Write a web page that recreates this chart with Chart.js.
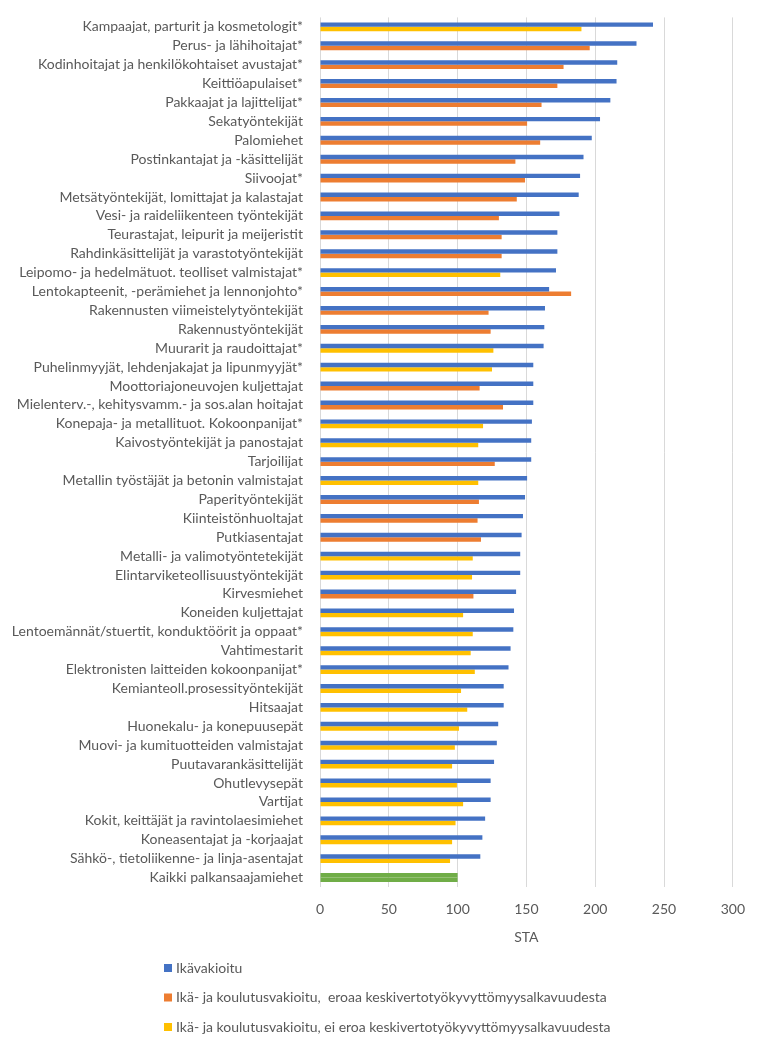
<!DOCTYPE html>
<html>
<head>
<meta charset="utf-8">
<script src="https://cdn.jsdelivr.net/npm/chart.js@4.4.1/dist/chart.umd.min.js"></script>
<style>
  html, body { margin: 0; padding: 0; background: #fff; }
  #wrap { width: 759px; height: 1053px; position: relative; }
</style>
</head>
<body>
<div id="wrap"><canvas id="staChart"></canvas></div>
<script>
const categories = [
  'Kampaajat, parturit ja kosmetologit*',
  'Perus- ja lähihoitajat*',
  'Kodinhoitajat ja henkilökohtaiset avustajat*',
  'Keittiöapulaiset*',
  'Pakkaajat ja lajittelijat*',
  'Sekatyöntekijät',
  'Palomiehet',
  'Postinkantajat ja -käsittelijät',
  'Siivoojat*',
  'Metsätyöntekijät, lomittajat ja kalastajat',
  'Vesi- ja raideliikenteen työntekijät',
  'Teurastajat, leipurit ja meijeristit',
  'Rahdinkäsittelijät ja varastotyöntekijät',
  'Leipomo- ja hedelmätuot. teolliset valmistajat*',
  'Lentokapteenit, -perämiehet ja lennonjohto*',
  'Rakennusten viimeistelytyöntekijät',
  'Rakennustyöntekijät',
  'Muurarit ja raudoittajat*',
  'Puhelinmyyjät, lehdenjakajat ja lipunmyyjät*',
  'Moottoriajoneuvojen kuljettajat',
  'Mielenterv.-, kehitysvamm.- ja sos.alan hoitajat',
  'Konepaja- ja metallituot. Kokoonpanijat*',
  'Kaivostyöntekijät ja panostajat',
  'Tarjoilijat',
  'Metallin työstäjät ja betonin valmistajat',
  'Paperityöntekijät',
  'Kiinteistönhuoltajat',
  'Putkiasentajat',
  'Metalli- ja valimotyöntetekijät',
  'Elintarviketeollisuustyöntekijät',
  'Kirvesmiehet',
  'Koneiden kuljettajat',
  'Lentoemännät/stuertit, konduktöörit ja oppaat*',
  'Vahtimestarit',
  'Elektronisten laitteiden kokoonpanijat*',
  'Kemianteoll.prosessityöntekijät',
  'Hitsaajat',
  'Huonekalu- ja konepuusepät',
  'Muovi- ja kumituotteiden valmistajat',
  'Puutavarankäsittelijät',
  'Ohutlevysepät',
  'Vartijat',
  'Kokit, keittäjät ja ravintolaesimiehet',
  'Koneasentajat ja -korjaajat',
  'Sähkö-, tietoliikenne- ja linja-asentajat',
  'Kaikki palkansaajamiehet'
];

// Ikävakioitu
const ikavakioitu = [242, 230, 216, 215.5, 211, 203.5, 197.5, 191.5, 189, 188,
  174, 172.5, 172.5, 171.5, 166.5, 163.5, 163, 162.5, 155, 155,
  155, 154, 153.5, 153.5, 150.5, 149, 147.5, 146.5, 145.5, 145.5,
  142.5, 141, 140.5, 138.5, 137, 133.5, 133.5, 129.5, 128.5, 126.5,
  124, 124, 120, 118, 116.5, null];

// Ikä- ja koulutusvakioitu, eroaa keskivertotyökyvyttömyysalkavuudesta
const eroaa = [null, 196, 177, 172.5, 161, 150.5, 160, 142, 149, 143,
  130, 132, 132, null, 182.5, 122.5, 124, null, null, 116,
  133, null, null, 127, null, 115.5, 114.5, 117, null, null,
  111.5, null, null, null, null, null, null, null, null, null,
  null, null, null, null, null, null];

// Ikä- ja koulutusvakioitu, ei eroa keskivertotyökyvyttömyysalkavuudesta
const eiEroa = [190, null, null, null, null, null, null, null, null, null,
  null, null, null, 131, null, null, null, 126, 125, null,
  null, 118.5, 115, null, 115, null, null, null, 111, 110.5,
  null, 104, 111, 109.5, 112.5, 102.5, 107, 101, 98, 96,
  99.5, 104, 98.5, 96, 94.5, null];

// Kaikki palkansaajamiehet
const kaikki = [null, null, null, null, null, null, null, null, null, null,
  null, null, null, null, null, null, null, null, null, null,
  null, null, null, null, null, null, null, null, null, null,
  null, null, null, null, null, null, null, null, null, null,
  null, null, null, null, null, 100];

const xTicks = [0, 50, 100, 150, 200, 250, 300];

const FONT = "Lato, 'Open Sans', sans-serif";
const GREY = '#595959';

// legend drawn as three rows below the axis title, like the original
const rowLegend = {
  id: 'rowLegend',
  afterDraw(chart) {
    const ctx = chart.ctx;
    const items = chart.data.datasets.filter(d => !d.hideInLegend);
    ctx.save();
    ctx.font = '14px ' + FONT;
    ctx.textBaseline = 'middle';
    items.forEach((d, i) => {
      const y = 968 + i * 29.5;
      ctx.fillStyle = d.backgroundColor;
      ctx.fillRect(164, y - 4, 8, 8);
      ctx.fillStyle = GREY;
      ctx.fillText(d.label, 176, y);
    });
    ctx.restore();
  }
};

new Chart(document.getElementById('staChart'), {
  type: 'bar',
  data: {
    labels: categories,
    datasets: [
      { label: 'Ikävakioitu', data: ikavakioitu, backgroundColor: '#4472C4', stack: 'a' },
      { label: 'Ikä- ja koulutusvakioitu,  eroaa keskivertotyökyvyttömyysalkavuudesta', data: eroaa, backgroundColor: '#ED7D31', stack: 'b' },
      { label: 'Ikä- ja koulutusvakioitu, ei eroa keskivertotyökyvyttömyysalkavuudesta', data: eiEroa, backgroundColor: '#FFC000', stack: 'b' },
      { label: 'Kaikki palkansaajamiehet', data: kaikki, backgroundColor: '#70AD47', stack: 'a', hideInLegend: true },
      { label: 'Kaikki palkansaajamiehet', data: kaikki, backgroundColor: '#70AD47', stack: 'b', hideInLegend: true }
    ]
  },
  options: {
    indexAxis: 'y',
    responsive: true,
    maintainAspectRatio: false,
    animation: false,
    categoryPercentage: 0.47,
    barPercentage: 1,
    layout: { padding: { top: 13, bottom: 96, left: 0, right: 25 } },
    plugins: {
      legend: { display: false },
      tooltip: { enabled: false }
    },
    scales: {
      x: {
        min: 0,
        max: 300,
        afterBuildTicks: s => { s.ticks = xTicks.map(v => ({ value: v })); },
        afterFit: s => { s.height = 70; },
        grid: { color: '#D9D9D9', drawTicks: false },
        border: { display: false },
        ticks: { color: GREY, font: { family: FONT, size: 14 }, padding: 14 },
        title: { display: true, text: 'STA', color: GREY, font: { family: FONT, size: 14 }, padding: { top: 0, bottom: 11 } }
      },
      y: {
        afterFit: s => { s.width = 320; },
        grid: { display: false },
        border: { display: false },
        ticks: { color: GREY, font: { family: FONT, size: 14 }, padding: 9, autoSkip: false }
      }
    }
  },
  plugins: [rowLegend]
});
</script>
</body>
</html>
